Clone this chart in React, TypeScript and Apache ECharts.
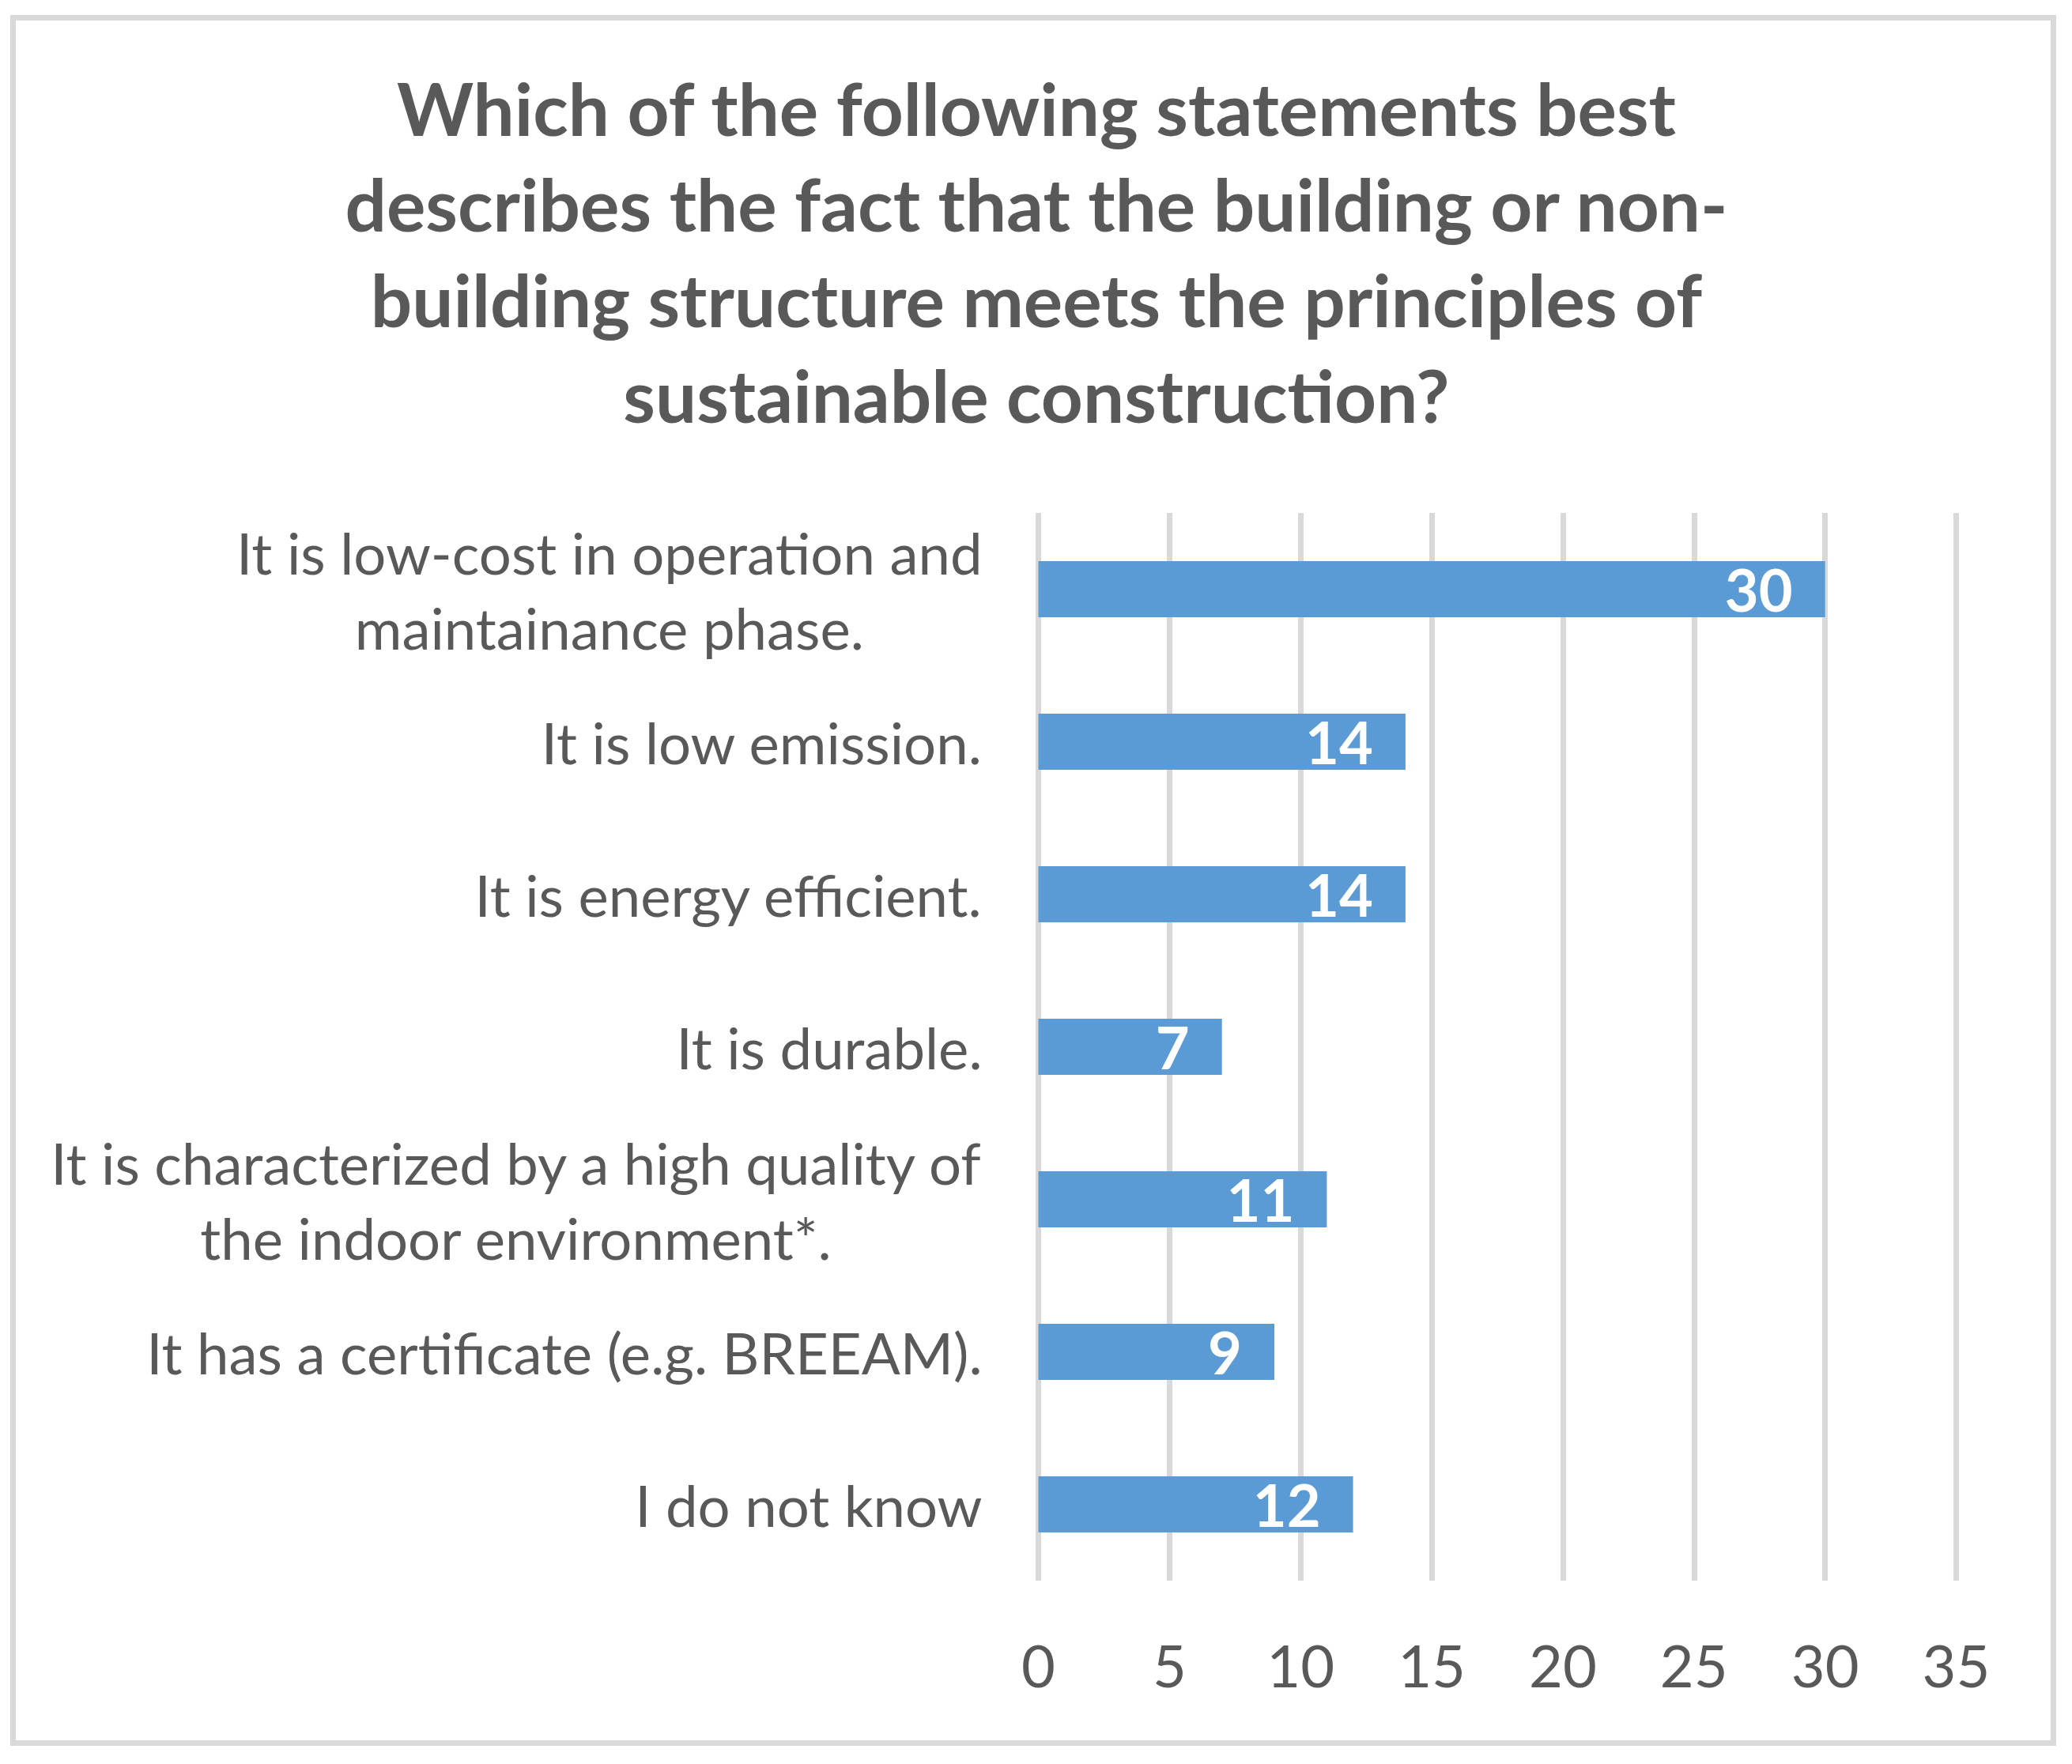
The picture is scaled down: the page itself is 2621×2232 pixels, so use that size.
import React, { useEffect, useRef } from "react";
import * as echarts from "echarts";

const titleLines = [
  "Which of the following statements best",
  "describes the fact that the building or non-",
  "building structure meets the principles of",
  "sustainable construction?",
];

const categories = [
  "It is low-cost in operation and\nmaintainance phase.",
  "It is low emission.",
  "It is energy efficient.",
  "It is durable.",
  "It is characterized by a high quality of\nthe indoor environment*.",
  "It has a certificate (e.g. BREEAM).",
  "I do not know",
];

const values = [30, 14, 14, 7, 11, 9, 12];

const axisMin = 0;
const axisMax = 35;
const axisStep = 5;

const FONT = "Lato, 'Liberation Sans', sans-serif";
const GRAY = "#595959";
const LIGHT = "#d9d9d9";
const BLUE = "#5b9bd5";

export default function App() {
  const ref = useRef<HTMLDivElement>(null);

  useEffect(() => {
    if (!ref.current) return;
    const chart = echarts.init(ref.current, null, { renderer: "svg" });
    chart.setOption({
      animation: false,
      backgroundColor: "#ffffff",
      title: {
        text: titleLines.join("\n"),
        left: 1298,
        top: 63,
        textAlign: "center",
        textStyle: {
          fontFamily: FONT,
          fontWeight: "bold",
          fontSize: 92.5,
          lineHeight: 121,
          color: GRAY,
        },
      },
      graphic: [
        {
          type: "rect",
          shape: { x: 8.5, y: 14.5, width: 2581, height: 2183 },
          style: { fill: "none", stroke: LIGHT, lineWidth: 7 },
          silent: true,
        },
      ],
      grid: {
        left: 1305.5,
        right: 138.5,
        top: 641,
        bottom: 224,
        containLabel: false,
      },
      xAxis: {
        type: "value",
        min: axisMin,
        max: axisMax,
        interval: axisStep,
        axisLine: { show: false },
        axisTick: { show: false },
        splitLine: { show: true, lineStyle: { color: LIGHT, width: 7 } },
        axisLabel: {
          margin: 69,
          fontFamily: FONT,
          fontSize: 74,
          color: GRAY,
        },
      },
      yAxis: {
        type: "category",
        inverse: true,
        data: categories,
        axisLine: { show: false },
        axisTick: { show: false },
        splitLine: { show: false },
        axisLabel: {
          margin: 71,
          align: "right",
          formatter: (v: string) =>
            v
              .split("\n")
              .map((l) => `{c|${l}}`)
              .join("\n"),
          rich: {
            c: {
              align: "center",
              fontFamily: FONT,
              fontSize: 72.5,
              lineHeight: 95,
              color: GRAY,
            },
          },
        },
      },
      series: [
        {
          type: "bar",
          data: values,
          barWidth: 71,
          itemStyle: { color: BLUE },
          label: {
            show: true,
            position: "insideRight",
            distance: 41,
            fontFamily: FONT,
            fontWeight: "bold",
            fontSize: 74,
            color: "#ffffff",
          },
        },
      ],
    });
    return () => chart.dispose();
  }, []);

  return <div ref={ref} style={{ width: 2605, height: 2216 }} />;
}
